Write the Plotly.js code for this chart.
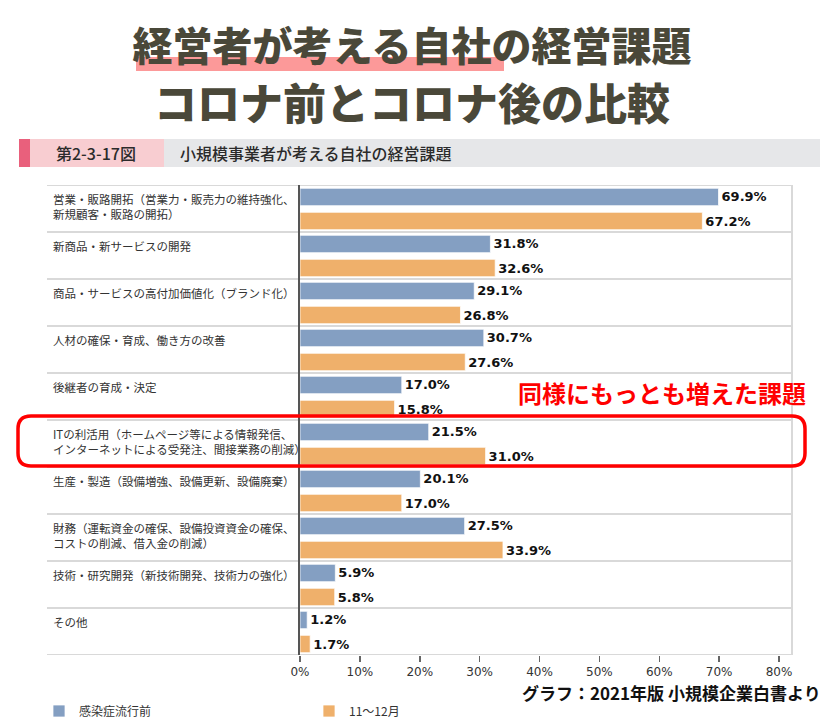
<!DOCTYPE html>
<html>
<head>
<meta charset="utf-8">
<script src="https://cdn.plot.ly/plotly-3.0.1.min.js"></script>
<style>html,body{margin:0;padding:0;background:#fff;}#chart{width:837px;height:720px;}</style>
</head>
<body>
<div id="chart"></div>
<script>
// ---- data ----
const categories = [
  '営業・販路開拓（営業力・販売力の維持強化、<br>新規顧客・販路の開拓）',
  '新商品・新サービスの開発',
  '商品・サービスの高付加価値化（ブランド化）',
  '人材の確保・育成、働き方の改善',
  '後継者の育成・決定',
  'ITの利活用（ホームページ等による情報発信、<br>インターネットによる受発注、間接業務の削減）',
  '生産・製造（設備増強、設備更新、設備廃棄）',
  '財務（運転資金の確保、設備投資資金の確保、<br>コストの削減、借入金の削減）',
  '技術・研究開発（新技術開発、技術力の強化）',
  'その他'
];
const seriesNames = ['感染症流行前', '11～12月'];
const beforeValues = [69.9, 31.8, 29.1, 30.7, 17.0, 21.5, 20.1, 27.5, 5.9, 1.2];
const afterValues  = [67.2, 32.6, 26.8, 27.6, 15.8, 31.0, 17.0, 33.9, 5.8, 1.7];
const xTickValues = [0, 10, 20, 30, 40, 50, 60, 70, 80];
const xTickLabels = ['0%', '10%', '20%', '30%', '40%', '50%', '60%', '70%', '80%'];
const titleLine1 = '経営者が考える自社の経営課題';
const titleLine2 = 'コロナ前とコロナ後の比較';
const figureNo = '第2-3-17図';
const figureTitle = '小規模事業者が考える自社の経営課題';
const calloutText = '同様にもっとも増えた課題';
const sourceText = 'グラフ：2021年版 小規模企業白書より';

// ---- layout helpers (pixel -> paper) ----
const PL = 300, PR = 792, PT = 185, PB = 655;
const fx = x => (x - PL) / (PR - PL);
const fy = y => (PB - y) / (PB - PT);
const JP = '"Noto Sans CJK JP", "Noto Sans", sans-serif';
const VER = '"DejaVu Sans", Verdana, sans-serif';

function roundRectPath(x0, y0, x1, y1, r) {
  const P = (x, y) => fx(x) + ',' + fy(y);
  return 'M' + P(x0 + r, y0) + ' L' + P(x1 - r, y0) + ' Q' + P(x1, y0) + ' ' + P(x1, y0 + r) +
    ' L' + P(x1, y1 - r) + ' Q' + P(x1, y1) + ' ' + P(x1 - r, y1) +
    ' L' + P(x0 + r, y1) + ' Q' + P(x0, y1) + ' ' + P(x0, y1 - r) +
    ' L' + P(x0, y0 + r) + ' Q' + P(x0, y0) + ' ' + P(x0 + r, y0) + ' Z';
}

const barStyle = (color) => ({ color: color, line: { color: 'rgba(255,255,255,0.75)', width: 1 } });

const traces = [
  {
    type: 'bar', orientation: 'h', name: seriesNames[0],
    y: categories, x: beforeValues,
    width: 0.37, offset: -0.43,
    marker: barStyle('#849fc2'),
    texttemplate: '%{x:.1f}%', textposition: 'outside', constraintext: 'none', cliponaxis: false,
    textfont: { family: VER, size: 13, color: '#111', weight: 'bold' },
    hoverinfo: 'x+name'
  },
  {
    type: 'bar', orientation: 'h', name: seriesNames[1],
    y: categories, x: afterValues,
    width: 0.37, offset: 0.081,
    marker: barStyle('#efb06b'),
    texttemplate: '%{x:.1f}%', textposition: 'outside', constraintext: 'none', cliponaxis: false,
    textfont: { family: VER, size: 13, color: '#111', weight: 'bold' },
    hoverinfo: 'x+name'
  }
];

const shapes = [];
// title highlight
shapes.push({ type: 'rect', xref: 'paper', yref: 'paper', x0: fx(136), x1: fx(504), y0: fy(57), y1: fy(71),
  fillcolor: '#fc9999', line: { width: 0 }, layer: 'below' });
// header band
shapes.push({ type: 'rect', xref: 'paper', yref: 'paper', x0: fx(19), x1: fx(30), y0: fy(139), y1: fy(167),
  fillcolor: '#e9607c', line: { width: 0 }, layer: 'below' });
shapes.push({ type: 'rect', xref: 'paper', yref: 'paper', x0: fx(30), x1: fx(164), y0: fy(139), y1: fy(167),
  fillcolor: '#f8cdd1', line: { width: 0 }, layer: 'below' });
shapes.push({ type: 'rect', xref: 'paper', yref: 'paper', x0: fx(164), x1: fx(820), y0: fy(139), y1: fy(167),
  fillcolor: '#e6e7e9', line: { width: 0 }, layer: 'below' });
// row separators
for (let i = 0; i <= categories.length; i++) {
  shapes.push({ type: 'line', xref: 'paper', yref: 'y', x0: fx(47), x1: 1, y0: i - 0.5, y1: i - 0.5,
    line: { color: '#d9d9d9', width: 2 }, layer: 'below' });
}
// right border
shapes.push({ type: 'line', xref: 'paper', yref: 'paper', x0: 1, x1: 1, y0: 0, y1: 1,
  line: { color: '#d9d9d9', width: 2 }, layer: 'below' });
// red callout box
shapes.push({ type: 'path', xref: 'paper', yref: 'paper', path: roundRectPath(18, 416, 805, 466, 13),
  line: { color: '#ff0000', width: 3.5 }, layer: 'above' });

const annotations = [];
// title line 2
annotations.push({ xref: 'paper', yref: 'paper', x: fx(412), y: fy(101), xanchor: 'center', yanchor: 'middle',
  text: titleLine2, showarrow: false, font: { family: JP, size: 43, color: '#4a4839', weight: 900 } });
// header texts
annotations.push({ xref: 'paper', yref: 'paper', x: fx(54), y: fy(153), xanchor: 'left', yanchor: 'middle',
  text: figureNo, showarrow: false, font: { family: JP, size: 16, color: '#2b2b2b', weight: 500 } });
annotations.push({ xref: 'paper', yref: 'paper', x: fx(178), y: fy(153), xanchor: 'left', yanchor: 'middle',
  text: figureTitle, showarrow: false, font: { family: JP, size: 16, color: '#2b2b2b', weight: 500 } });
// category labels
categories.forEach(c => {
  annotations.push({ xref: 'paper', yref: 'y', x: fx(51), y: c, xanchor: 'left', yanchor: 'top', yshift: 20,
    align: 'left', text: c, showarrow: false, font: { family: JP, size: 11.5, color: '#333' } });
});
// callout text
annotations.push({ xref: 'paper', yref: 'paper', x: fx(808), y: fy(392), xanchor: 'right', yanchor: 'middle',
  text: calloutText, showarrow: false, font: { family: JP, size: 24, color: '#ff0000', weight: 'bold' } });
// source
annotations.push({ xref: 'paper', yref: 'paper', x: fx(823), y: fy(692), xanchor: 'right', yanchor: 'middle',
  text: sourceText, showarrow: false, font: { family: JP, size: 17, color: '#111', weight: 'bold' } });

const layout = {
  width: 837, height: 720,
  margin: { l: PL, r: 837 - PR, t: PT, b: 720 - PB, pad: 0, autoexpand: false },
  paper_bgcolor: '#ffffff', plot_bgcolor: 'rgba(0,0,0,0)',
  title: { text: titleLine1, xref: 'container', yref: 'container', x: 412 / 837, y: 1 - 47 / 720,
    xanchor: 'center', yanchor: 'middle', font: { family: JP, size: 40, color: '#4a4839', weight: 900 } },
  barmode: 'overlay',
  showlegend: true,
  legend: { orientation: 'h', x: fx(39), xanchor: 'left', y: fy(711), yanchor: 'middle',
    entrywidth: 225, entrywidthmode: 'pixels', traceorder: 'normal',
    font: { family: JP, size: 12, color: '#333' }, bgcolor: 'rgba(0,0,0,0)' },
  xaxis: { range: [0, (PR - PL) / 5.9875], tickmode: 'array', tickvals: xTickValues, ticktext: xTickLabels,
    ticks: 'outside', ticklen: 6, tickcolor: '#666', tickwidth: 1.5,
    tickfont: { family: VER, size: 12, color: '#333' },
    showgrid: false, zeroline: false, showline: false, fixedrange: true },
  yaxis: { type: 'category', range: [categories.length - 0.5, -0.5], autorange: false,
    showticklabels: false, ticks: '', showgrid: false, zeroline: false,
    showline: true, linecolor: '#555', linewidth: 2, fixedrange: true },
  shapes: shapes,
  annotations: annotations
};

Plotly.newPlot('chart', traces, layout, { displayModeBar: false, staticPlot: true });
</script>
</body>
</html>
